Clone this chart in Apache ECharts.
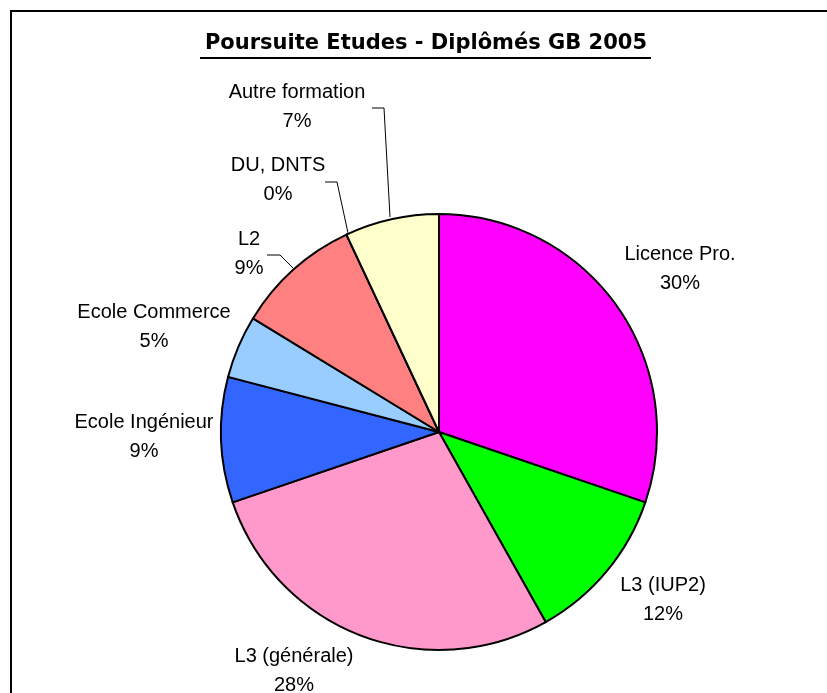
<!DOCTYPE html>
<html>
<head>
<meta charset="utf-8">
<script src="https://cdn.jsdelivr.net/npm/echarts@6/dist/echarts.min.js"></script>
<style>
html, body { margin: 0; padding: 0; background: #fff; }
#main { width: 827px; height: 693px; }
</style>
</head>
<body>
<div id="main"></div>
<script>
// données du graphique
var categories = ['Licence Pro.', 'L3 (IUP2)', 'L3 (générale)', 'Ecole Ingénieur', 'Ecole Commerce', 'L2', 'DU, DNTS', 'Autre formation'];
var effectifs = [13, 5, 12, 4, 2, 4, 0, 3];
var couleurs = ['#ff00ff', '#00ff00', '#ff99cc', '#3366ff', '#99ccff', '#ff8080', '#c0c0c0', '#ffffcc'];

// position des étiquettes (centre du bloc de texte) et lignes de rappel
var labelPos = [[680, 269], [663, 600], [294, 671], [144, 437], [154, 327], [249, 254], [278, 180], [297, 107]];
var leaders = {
	5: [[267, 255], [280, 255], [293, 268]],
	6: [[325, 182], [337, 182], [348, 233]],
	7: [[372, 108], [384, 108], [390, 217]]
};

var myChart = echarts.init(document.getElementById('main'));

var data = [];
for (var i = 0; i < categories.length; i++) {
	data.push({
		name: categories[i],
		value: effectifs[i],
		itemStyle: { color: couleurs[i] },
		labelLine: { show: !!leaders[i] }
	});
}

var option = {
	animation: false,
	backgroundColor: '#fff',
	graphic: [
		{
			type: 'rect',
			shape: { x: 11, y: 11, width: 830, height: 700 },
			style: { fill: 'none', stroke: '#000', lineWidth: 2 },
			silent: true
		},
		{
			type: 'text',
			x: 426,
			y: 44,
			style: {
				text: 'Poursuite Etudes - Diplômés GB 2005',
				font: 'bold 21px "DejaVu Sans"',
				fill: '#000',
				align: 'center',
				verticalAlign: 'middle'
			}
		},
		{
			type: 'line',
			shape: { x1: 200, y1: 58, x2: 651, y2: 58 },
			style: { stroke: '#000', lineWidth: 2 }
		}
	],
	series: [{
		type: 'pie',
		center: [439, 432],
		radius: 218,
		startAngle: 90,
		clockwise: true,
		avoidLabelOverlap: false,
		percentPrecision: 0,
		itemStyle: {
			borderColor: '#000',
			borderWidth: 2
		},
		label: {
			show: true,
			formatter: '{b}\n{d}%',
			fontFamily: '"Liberation Sans", Arial',
			fontSize: 20,
			lineHeight: 29,
			color: '#000',
			align: 'center'
		},
		labelLine: {
			lineStyle: { color: '#000', width: 1 }
		},
		labelLayout: function (params) {
			var p = labelPos[params.dataIndex];
			var res = {
				x: p[0],
				y: p[1],
				align: 'center',
				verticalAlign: 'middle'
			};
			if (leaders[params.dataIndex]) {
				res.labelLinePoints = leaders[params.dataIndex];
			}
			return res;
		},
		emphasis: { disabled: true },
		data: data
	}]
};

myChart.setOption(option);
</script>
</body>
</html>
